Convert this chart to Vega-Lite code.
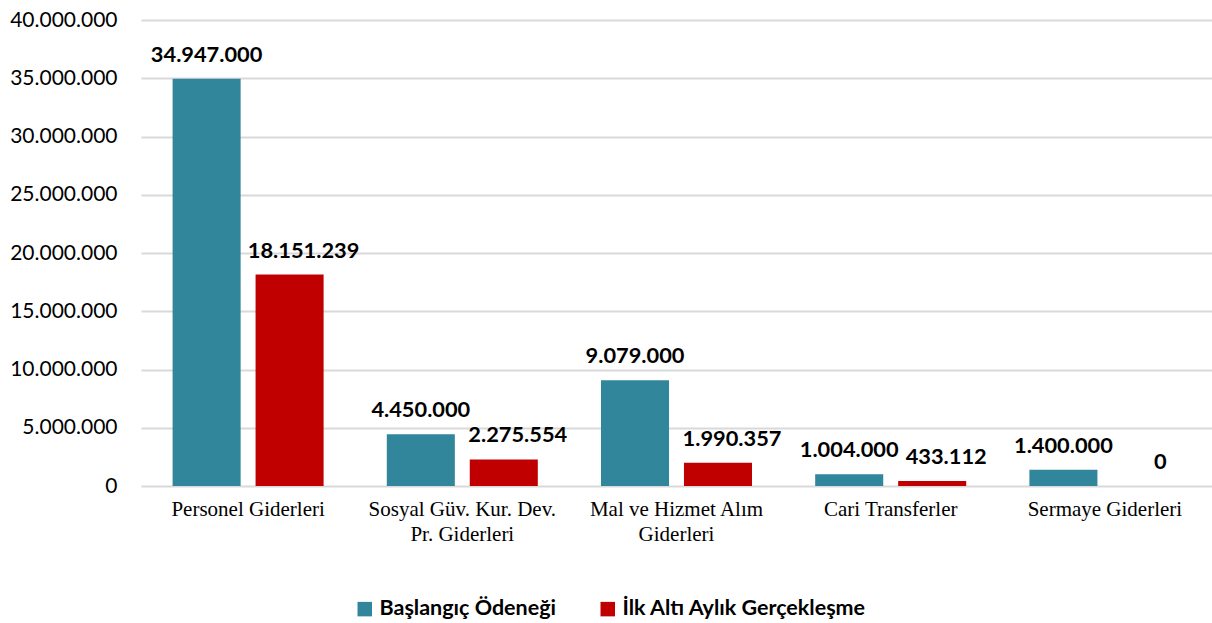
{
  "$schema": "https://vega.github.io/schema/vega-lite/v6.json",
  "width": 1071,
  "height": 466,
  "autosize": {"type": "none"},
  "padding": {"left": 141, "top": 20, "right": 0, "bottom": 137},
  "background": "#ffffff",
  "config": {
    "locale": {"number": {"decimal": ",", "thousands": ".", "grouping": [3], "currency": ["", " ₺"]}},
    "view": {"stroke": null},
    "font": "Lato"
  },
  "data": {
    "values": [
      {"kategori": "Personel Giderleri", "seri": "Başlangıç Ödeneği", "deger": 34947000},
      {"kategori": "Personel Giderleri", "seri": "İlk Altı Aylık Gerçekleşme", "deger": 18151239},
      {"kategori": "Sosyal Güv. Kur. Dev.|Pr. Giderleri", "seri": "Başlangıç Ödeneği", "deger": 4450000},
      {"kategori": "Sosyal Güv. Kur. Dev.|Pr. Giderleri", "seri": "İlk Altı Aylık Gerçekleşme", "deger": 2275554},
      {"kategori": "Mal ve Hizmet Alım|Giderleri", "seri": "Başlangıç Ödeneği", "deger": 9079000},
      {"kategori": "Mal ve Hizmet Alım|Giderleri", "seri": "İlk Altı Aylık Gerçekleşme", "deger": 1990357},
      {"kategori": "Cari Transferler", "seri": "Başlangıç Ödeneği", "deger": 1004000},
      {"kategori": "Cari Transferler", "seri": "İlk Altı Aylık Gerçekleşme", "deger": 433112},
      {"kategori": "Sermaye Giderleri", "seri": "Başlangıç Ödeneği", "deger": 1400000},
      {"kategori": "Sermaye Giderleri", "seri": "İlk Altı Aylık Gerçekleşme", "deger": 0}
    ]
  },
  "encoding": {
    "x": {
      "field": "kategori",
      "type": "nominal",
      "sort": null,
      "scale": {"paddingInner": 0.295, "paddingOuter": 0.1475},
      "axis": {
        "title": null,
        "labelExpr": "split(datum.label, '|')",
        "labelAngle": 0,
        "labelFont": "Liberation Serif",
        "labelFontSize": 21,
        "labelColor": "#000000",
        "labelPadding": 12,
        "labelLineHeight": 25,
        "labelLimit": 400,
        "ticks": false,
        "domain": false,
        "grid": false
      }
    },
    "xOffset": {
      "field": "seri",
      "type": "nominal",
      "sort": ["Başlangıç Ödeneği", "İlk Altı Aylık Gerçekleşme"],
      "scale": {"paddingInner": 0.18, "paddingOuter": 0}
    },
    "y": {
      "field": "deger",
      "type": "quantitative",
      "scale": {"domain": [0, 40000000], "nice": false},
      "axis": {
        "title": null,
        "values": [0, 5000000, 10000000, 15000000, 20000000, 25000000, 30000000, 35000000, 40000000],
        "format": ",d",
        "labelFont": "Lato",
        "labelFontSize": 21,
        "labelColor": "#000000",
        "labelPadding": 24,
        "ticks": false,
        "domain": false,
        "grid": true,
        "gridColor": "#D9D9D9",
        "gridWidth": 2
      }
    }
  },
  "layer": [
    {
      "mark": {"type": "bar"},
      "encoding": {
        "color": {
          "field": "seri",
          "type": "nominal",
          "sort": ["Başlangıç Ödeneği", "İlk Altı Aylık Gerçekleşme"],
          "scale": {"domain": ["Başlangıç Ödeneği", "İlk Altı Aylık Gerçekleşme"], "range": ["#31869B", "#C00000"]},
          "legend": {
            "title": null,
            "orient": "none",
            "direction": "horizontal",
            "legendX": 213,
            "legendY": 578,
            "symbolType": "square",
            "symbolSize": 210,
            "symbolStrokeWidth": 0,
            "labelFont": "Lato",
            "labelFontWeight": "bold",
            "labelFontSize": 21.5,
            "labelLimit": 400,
            "labelColor": "#000000",
            "labelOffset": 4,
            "columnPadding": 40
          }
        }
      }
    },
    {
      "transform": [{"filter": "datum.seri === 'Başlangıç Ödeneği'"}],
      "mark": {"type": "text", "baseline": "alphabetic", "dy": -17, "font": "Lato", "fontWeight": "bold", "fontSize": 21.8, "color": "#000000"},
      "encoding": {
        "text": {"field": "deger", "type": "quantitative", "format": ",d"}
      }
    },
    {
      "transform": [{"filter": "datum.seri !== 'Başlangıç Ödeneği'"}],
      "mark": {"type": "text", "baseline": "alphabetic", "dy": -17, "dx": 14, "font": "Lato", "fontWeight": "bold", "fontSize": 21.8, "color": "#000000"},
      "encoding": {
        "text": {"field": "deger", "type": "quantitative", "format": ",d"}
      }
    }
  ]
}
